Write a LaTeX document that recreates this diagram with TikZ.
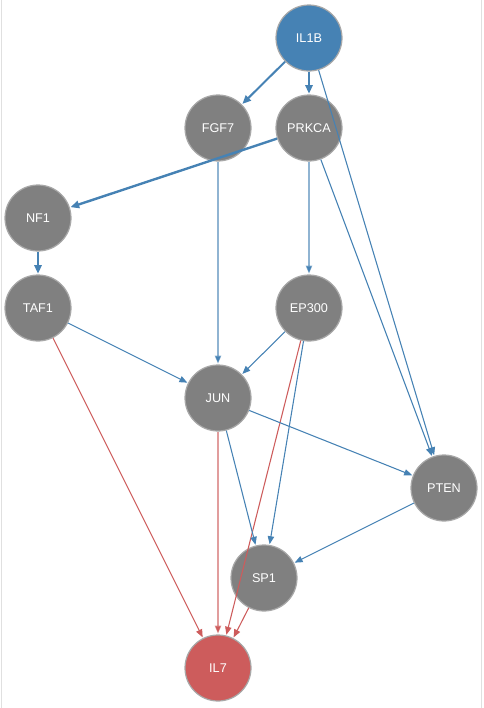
\documentclass[tikz,border=0pt]{standalone}
\usepackage{fontspec}
\setmainfont{Liberation Sans}
\usetikzlibrary{arrows.meta}
\definecolor{edgeblue}{HTML}{4682B4}
\definecolor{edgered}{HTML}{CD5C5C}
\definecolor{nodegray}{HTML}{808080}
\definecolor{rimgray}{HTML}{A8A8A8}
\begin{document}
\begin{tikzpicture}[x=0.75pt,y=-0.75pt,
  gene/.style={circle,draw=rimgray,line width=0.9pt,fill=nodegray,minimum size=49.5pt,inner sep=0pt,
    text=white,font=\fontsize{9.5}{11}\selectfont},
  up/.style={gene,fill=edgeblue},
  down/.style={gene,fill=edgered},
  link/.style={draw=edgeblue,line width=0.8pt,-{Triangle[length=6pt,width=4.8pt]},shorten >=0.5pt},
  faint/.style={draw opacity=0.6},
  strong/.style={link,line width=1.5pt,-{Triangle[length=6.5pt,width=5.5pt]}},
  redlink/.style={link,draw=edgered},
  frame/.style={draw=black!12,line width=0.9pt}]
  \useasboundingbox (0,0) rectangle (483,708);
  \draw[frame] (1.2,0) -- (1.2,708);
  \draw[frame] (481.8,0) -- (481.8,708);

  \node[up]   (il1b)  at (309,38)  {IL1B};
  \node[gene] (fgf7)  at (218,128) {FGF7};
  \node[gene] (prkca) at (309,128) {PRKCA};
  \node[gene] (nf1)   at (38,218)  {NF1};
  \node[gene] (taf1)  at (38,308)  {TAF1};
  \node[gene] (ep300) at (309,308) {EP300};
  \node[gene] (jun)   at (218,398) {JUN};
  \node[gene] (pten)  at (444,488) {PTEN};
  \node[gene] (sp1)   at (264,578) {SP1};
  \node[down] (il7)   at (218,668) {IL7};

  \draw[strong] (il1b) -- (fgf7);
  \draw[strong] (il1b) -- (prkca);
  \draw[link]   (il1b) -- (pten);
  \draw[strong,line width=1.8pt] (prkca) -- (nf1);
  \draw[link,faint] (fgf7) -- (jun);
  \draw[link,faint] (prkca) -- (ep300);
  \draw[link]   (prkca) -- (pten);
  \draw[strong] (nf1) -- (taf1);
  \draw[link]   (taf1) -- (jun);
  \draw[redlink] (taf1) -- (il7);
  \draw[link]   (ep300) -- (jun);
  \draw[link]   (ep300) -- (sp1);
  \draw[redlink] (ep300) -- (il7);
  \draw[link]   (jun) -- (pten);
  \draw[link]   (jun) -- (sp1);
  \draw[redlink,faint] (jun) -- (il7);
  \draw[link]   (pten) -- (sp1);
  \draw[redlink] (sp1) -- (il7);
\end{tikzpicture}
\end{document}
